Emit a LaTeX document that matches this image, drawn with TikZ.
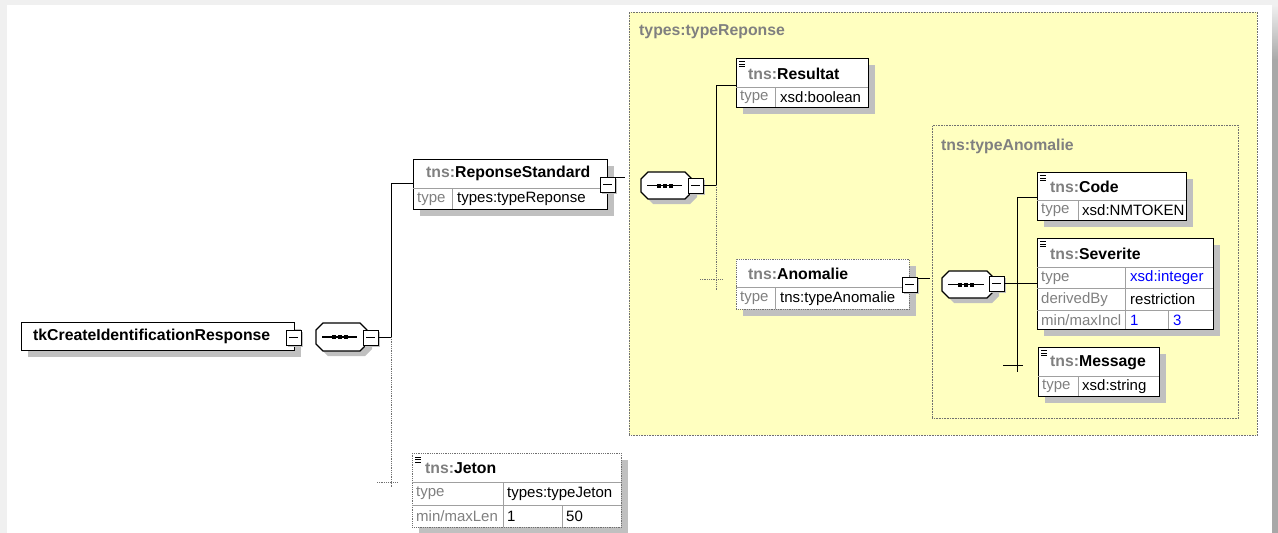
\documentclass[tikz,border=0pt]{standalone}
\usepackage{fontspec}
\setmainfont{Liberation Sans}
\definecolor{yel}{HTML}{FFFFC0}
\definecolor{shad}{HTML}{C0C0C0}
\definecolor{tg}{HTML}{808080}
\definecolor{cellg}{HTML}{A0A0A0}
\definecolor{bordg}{HTML}{707070}
\definecolor{xblue}{HTML}{0000FF}
\definecolor{framel}{HTML}{F0F0F0}
\definecolor{framed}{HTML}{A8A8A8}
\tikzset{
  elbox/.style={draw=black, fill=white, line width=1pt, inner sep=0pt, anchor=north west},
  optbox/.style={draw=bordg, fill=white, densely dotted, line width=0.8pt, inner sep=0pt, anchor=north west},
  cellline/.style={draw=cellg, line width=0.7pt},
  conn/.style={draw=black, line width=1pt},
  optconn/.style={draw=bordg, densely dotted, line width=0.8pt},
  hdr/.style={anchor=west, inner sep=0pt, font=\fontsize{15.8}{17}\selectfont\bfseries},
  cell/.style={anchor=west, inner sep=0pt, font=\fontsize{15}{17}\selectfont},
  grp/.style={draw=bordg, fill=yel, densely dotted, line width=0.6pt, inner sep=0pt, anchor=north west},
  grplbl/.style={anchor=west, inner sep=0pt, text=tg, font=\fontsize{15.8}{17}\selectfont\bfseries},
}
% shadow + box node: name, l, t, w, h, style
\newcommand\xbox[6]{%
  \fill[shad] (#2+7,#3+7) rectangle ++(#4,#5);
  \node[#6, minimum width=#4pt, minimum height=#5pt] (#1) at (#2,#3) {};}
% list icon
\newcommand\xicon[2]{%
  \draw[line width=0.9pt] (#1,#2) -- ++(6,0) (#1,#2+2.5) -- ++(6,0) (#1,#2+5) -- ++(6,0);}
% minus box: name, x, y
\newcommand\xminus[3]{%
  \fill[shad] (#2+2,#3+2) rectangle ++(15,15);
  \node[draw=black, fill=white, line width=1.2pt, minimum size=15pt, inner sep=0pt, anchor=north west] (#1) at (#2,#3) {};
  \draw[line width=1pt] (#2+3,#3+7.5) -- (#2+12,#3+7.5);}
% sequence: name, l, t, r, b
\newcommand\xseq[5]{%
  \fill[shad, shift={(5,5)}] (#2+7,#3) -- (#4-7,#3) -- (#4,#3+7) -- (#4,#5-7) -- (#4-7,#5) -- (#2+7,#5) -- (#2,#5-7) -- (#2,#3+7) -- cycle;
  \draw[fill=white, line width=1.2pt] (#2+7,#3) -- (#4-7,#3) -- (#4,#3+7) -- (#4,#5-7) -- (#4-7,#5) -- (#2+7,#5) -- (#2,#5-7) -- (#2,#3+7) -- cycle;
  \coordinate (#1) at ({(#2+#4)/2-2},{(#3+#5)/2});
  \draw[line width=1.2pt] (#2+6,{(#3+#5)/2}) -- (#4-10,{(#3+#5)/2});
  \foreach \dx in {-6,0,6} \fill ([xshift=\dx pt]#1) ++(-2,-2) rectangle ++(4,4);}
\begin{document}
\begin{tikzpicture}[x=1pt,y=-1pt]
\useasboundingbox (0,0) rectangle (1278,533);
% frame
\fill[white] (0,0) rectangle (1278,533);
\fill[framel] (0,0) rectangle (1278,5);
\fill[framel] (0,0) rectangle (7,533);
\shade[top color=framel, bottom color=framed] (1272,5) rectangle (1278,60);
\fill[framed] (1272,60) rectangle (1278,533);

% groups
\node[grp, minimum width=628pt, minimum height=423pt] (typeReponse) at (629,12) {};
\node[grplbl] (lblReponse) at (639,32) {types:typeReponse};
\node[grp, minimum width=306pt, minimum height=293pt] (typeAnomalie) at (932,125) {};
\node[grplbl] (lblAnomalie) at (941,146) {tns:typeAnomalie};

% root
\xbox{root}{21}{322}{273}{28}{elbox}
\node[hdr] (rootlbl) at (33,336.5) {tkCreateIdentificationResponse};
\xminus{rootminus}{286}{330}
\xseq{rootseq}{316}{323}{367}{351}
\xminus{rootseqminus}{363}{330}

% connectors level 1
\coordinate (j1) at (391,337);
\coordinate (j1top) at (391,183.5);
\coordinate (j1bot) at (391,487);
\coordinate (jetonL) at (377,482);
\coordinate (jetonR) at (398,482);
\draw[conn] (rootseqminus.east |- j1) -- (j1);
\draw[conn] (j1) -- (j1top) -- (j1top -| 413,0);
\draw[optconn] (j1) -- (j1bot);
\draw[optconn] (jetonL) -- (jetonR);

% ReponseStandard
\xbox{repstd}{413}{159}{194}{50}{elbox}
\draw[cellline] (413,188) -- (607,188) (452,188) -- (452,209);
\node[hdr] (repstdlbl) at (426,173.5) {\textcolor{tg}{tns:}ReponseStandard};
\node[cell, text=tg] at (417,199) {type};
\node[cell] at (457,199) {types:typeReponse};
\xminus{repstdminus}{600}{177}
\coordinate (repout) at (625,177.5);
\draw[conn] (repstdminus.east |- repout) -- (repout);

% Jeton
\xbox{jeton}{412}{453}{209}{74}{optbox}
\draw[cellline] (412,482) -- (621,482) (412,505) -- (621,505) (503,482) -- (503,527) (562,505) -- (562,527);
\xicon{415}{457}
\node[hdr] (jetonlbl) at (425,468) {\textcolor{tg}{tns:}Jeton};
\node[cell, text=tg] at (416,493.5) {type};
\node[cell] at (507,493.5) {types:typeJeton};
\node[cell, text=tg] at (416,516) {min/maxLen};
\node[cell] at (507,516) {1};
\node[cell] at (566,516) {50};

% typeReponse sequence
\xseq{repseq}{641}{172}{692}{199}
\xminus{repseqminus}{688}{178}
\coordinate (j2) at (716,185);
\coordinate (j2top) at (716,85);
\coordinate (j2bot) at (716,290);
\draw[conn] (repseqminus.east |- j2) -- (j2);
\draw[conn] (j2) -- (j2top) -- (736,85);
\draw[optconn] (j2) -- (j2bot);
\draw[optconn] (700,279) -- (723,279);

% Resultat
\xbox{resultat}{736}{58}{132}{49}{elbox}
\draw[cellline] (736,87) -- (868,87) (775,87) -- (775,107);
\xicon{739}{61.5}
\node[hdr] (resultatlbl) at (748,73.5) {\textcolor{tg}{tns:}Resultat};
\node[cell, text=tg] at (740,97.5) {type};
\node[cell] at (780,97.5) {xsd:boolean};

% Anomalie
\xbox{anomalie}{736}{259}{173}{50}{optbox}
\draw[cellline] (736,287) -- (909,287) (775,287) -- (775,309);
\node[hdr] (anomalielbl) at (748,273.5) {\textcolor{tg}{tns:}Anomalie};
\node[cell, text=tg] at (740,298.5) {type};
\node[cell] at (780,298.5) {tns:typeAnomalie};
\xminus{anomalieminus}{902}{277}
\coordinate (anout) at (930,278);
\draw[conn] (anomalieminus.east |- anout) -- (anout);

% typeAnomalie sequence
\xseq{anseq}{942}{271}{994}{298}
\xminus{anseqminus}{989}{276}
\coordinate (j3) at (1017,283.5);
\coordinate (j3top) at (1017,197);
\coordinate (j3bot) at (1017,372);
\draw[conn] (anseqminus.east |- j3) -- (j3) -- (1037,283.5);
\draw[conn] (j3top) -- (j3bot);
\draw[conn] (j3top) -- (1037,197);
\draw[conn] (1003,365) -- (1023,365);

% Code
\xbox{code}{1037}{172}{149}{48}{elbox}
\draw[cellline] (1037,200) -- (1186,200) (1078,200) -- (1078,220);
\xicon{1040}{175.5}
\node[hdr] (codelbl) at (1050,187) {\textcolor{tg}{tns:}Code};
\node[cell, text=tg] at (1041,210.5) {type};
\node[cell] at (1082,210.5) {xsd:NMTOKEN};

% Severite
\xbox{severite}{1037}{238}{176}{91}{elbox}
\draw[cellline] (1037,267) -- (1213,267) (1037,288) -- (1213,288) (1037,310) -- (1213,310)
  (1125,267) -- (1125,329) (1168,310) -- (1168,329);
\xicon{1040}{241.5}
\node[hdr] (severitelbl) at (1050,253.5) {\textcolor{tg}{tns:}Severite};
\node[cell, text=tg] at (1041,278) {type};
\node[cell, text=xblue] at (1130,278) {xsd:integer};
\node[cell, text=tg] at (1041,299.5) {derivedBy};
\node[cell] at (1130,299.5) {restriction};
\node[cell, text=tg] at (1041,320) {min/maxIncl};
\node[cell, text=xblue] at (1130,320) {1};
\node[cell, text=xblue] at (1173,320) {3};

% Message
\xbox{message}{1038}{347}{121}{49}{elbox}
\draw[cellline] (1038,376) -- (1159,376) (1078,376) -- (1078,396);
\xicon{1041}{350.5}
\node[hdr] (messagelbl) at (1050,362.5) {\textcolor{tg}{tns:}Message};
\node[cell, text=tg] at (1042,386.5) {type};
\node[cell] at (1082,386.5) {xsd:string};
\end{tikzpicture}
\end{document}
